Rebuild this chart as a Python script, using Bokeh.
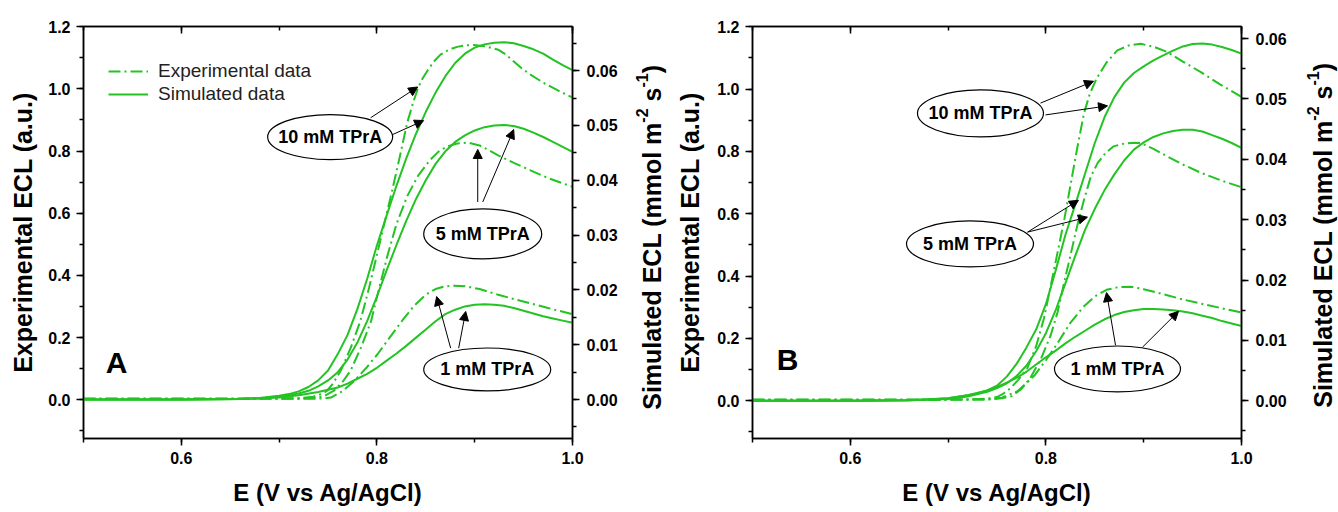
import math
from bokeh.plotting import figure
from bokeh.models import (Range1d, LinearAxis, SingleIntervalTicker, NumeralTickFormatter,
                          CustomJSTickFormatter, Arrow, NormalHead, Legend, LegendItem, Div)
from bokeh.layouts import row
from bokeh.embed import file_html
from bokeh.resources import INLINE
from bokeh.core.properties import value

# ---------------- data : panel A ----------------
A_sim10_x = [0.50, 0.60, 0.66, 0.68, 0.70, 0.71, 0.72, 0.73, 0.74, 0.75, 0.76, 0.77, 0.78, 0.79, 0.80, 0.81, 0.82, 0.83, 0.84, 0.85, 0.86, 0.87, 0.88, 0.89, 0.90, 0.91, 0.92, 0.93, 0.94, 0.95, 0.96, 0.97, 0.98, 0.99, 1.00]
A_sim10_y = [0.0, 0.0, 0.0001, 0.0003, 0.0007, 0.0010, 0.0015, 0.0023, 0.0035, 0.0053, 0.0083, 0.0118, 0.0165, 0.0220, 0.0281, 0.0336, 0.0390, 0.0440, 0.0485, 0.0525, 0.0560, 0.0590, 0.0614, 0.0631, 0.0642, 0.0648, 0.0651, 0.0652, 0.0650, 0.0645, 0.0639, 0.0631, 0.0620, 0.0610, 0.0601]
A_sim5_x = [0.50, 0.60, 0.66, 0.68, 0.70, 0.72, 0.73, 0.74, 0.75, 0.76, 0.77, 0.78, 0.79, 0.80, 0.81, 0.82, 0.83, 0.84, 0.85, 0.86, 0.87, 0.88, 0.89, 0.90, 0.91, 0.92, 0.93, 0.94, 0.95, 0.96, 0.97, 0.98, 0.99, 1.00]
A_sim5_y = [0.0, 0.0, 0.0001, 0.0002, 0.0005, 0.0011, 0.0016, 0.0024, 0.0035, 0.0050, 0.0073, 0.0104, 0.0143, 0.0188, 0.0236, 0.0282, 0.0326, 0.0366, 0.0400, 0.0430, 0.0453, 0.0470, 0.0482, 0.0491, 0.0497, 0.0500, 0.0501, 0.0499, 0.0494, 0.0487, 0.0479, 0.0470, 0.0461, 0.0452]
A_sim1_x = [0.50, 0.60, 0.66, 0.70, 0.72, 0.74, 0.75, 0.76, 0.77, 0.78, 0.79, 0.80, 0.81, 0.82, 0.83, 0.84, 0.85, 0.86, 0.87, 0.88, 0.89, 0.90, 0.91, 0.92, 0.93, 0.94, 0.95, 0.96, 0.97, 0.98, 0.99, 1.00]
A_sim1_y = [0.0, 0.0, 0.0001, 0.0004, 0.0008, 0.0014, 0.0018, 0.0022, 0.0029, 0.0038, 0.0047, 0.0058, 0.0071, 0.0084, 0.0098, 0.0113, 0.0128, 0.0143, 0.0156, 0.0164, 0.0170, 0.0173, 0.0174, 0.0173, 0.0171, 0.0167, 0.0162, 0.0157, 0.0152, 0.0148, 0.0144, 0.0140]
A_exp10_x = [0.50, 0.60, 0.70, 0.72, 0.735, 0.745, 0.749, 0.755, 0.763, 0.773, 0.783, 0.792, 0.800, 0.808, 0.816, 0.824, 0.831, 0.837, 0.842, 0.847, 0.852, 0.858, 0.865, 0.873, 0.882, 0.890, 0.899, 0.910, 0.924, 0.932, 0.940, 0.948, 0.957, 0.970, 0.985, 1.000]
A_exp10_y = [0.003, 0.003, 0.004, 0.005, 0.010, 0.020, 0.029, 0.052, 0.093, 0.165, 0.252, 0.360, 0.466, 0.572, 0.678, 0.790, 0.891, 0.955, 1.003, 1.035, 1.060, 1.087, 1.110, 1.125, 1.135, 1.140, 1.141, 1.137, 1.126, 1.110, 1.088, 1.066, 1.046, 1.020, 0.995, 0.972]
A_exp5_x = [0.50, 0.60, 0.72, 0.735, 0.745, 0.756, 0.765, 0.773, 0.784, 0.794, 0.800, 0.811, 0.820, 0.831, 0.842, 0.854, 0.863, 0.872, 0.882, 0.893, 0.905, 0.915, 0.924, 0.940, 0.957, 0.975, 1.000]
A_exp5_y = [0.003, 0.003, 0.004, 0.006, 0.010, 0.029, 0.058, 0.093, 0.170, 0.252, 0.330, 0.466, 0.565, 0.655, 0.720, 0.770, 0.798, 0.815, 0.824, 0.827, 0.818, 0.802, 0.786, 0.762, 0.738, 0.713, 0.685]
A_exp1_x = [0.50, 0.60, 0.73, 0.745, 0.753, 0.765, 0.777, 0.789, 0.801, 0.813, 0.826, 0.838, 0.850, 0.860, 0.870, 0.879, 0.890, 0.905, 0.924, 0.940, 0.957, 0.975, 1.000]
A_exp1_y = [0.003, 0.003, 0.003, 0.004, 0.007, 0.028, 0.061, 0.102, 0.148, 0.200, 0.255, 0.302, 0.338, 0.356, 0.365, 0.367, 0.365, 0.356, 0.338, 0.324, 0.310, 0.295, 0.275]

# ---------------- data : panel B ----------------
B_sim10_x = [0.50, 0.60, 0.66, 0.68, 0.70, 0.72, 0.73, 0.74, 0.75, 0.76, 0.77, 0.78, 0.79, 0.80, 0.81, 0.82, 0.83, 0.84, 0.85, 0.86, 0.87, 0.88, 0.89, 0.90, 0.91, 0.92, 0.93, 0.94, 0.95, 0.96, 0.97, 0.98, 0.99, 1.00]
B_sim10_y = [0.0, 0.0, 0.0001, 0.0002, 0.0004, 0.0009, 0.0012, 0.0017, 0.0025, 0.0040, 0.0061, 0.0088, 0.0118, 0.0160, 0.0216, 0.0275, 0.0325, 0.0376, 0.0427, 0.0470, 0.0503, 0.0527, 0.0543, 0.0554, 0.0564, 0.0572, 0.0580, 0.0587, 0.0591, 0.0592, 0.0590, 0.0586, 0.0581, 0.0575]
B_sim5_x = [0.50, 0.60, 0.66, 0.70, 0.72, 0.74, 0.75, 0.76, 0.77, 0.78, 0.79, 0.80, 0.81, 0.82, 0.83, 0.84, 0.85, 0.86, 0.87, 0.88, 0.89, 0.90, 0.91, 0.92, 0.93, 0.94, 0.95, 0.96, 0.97, 0.98, 0.99, 1.00]
B_sim5_y = [0.0, 0.0, 0.0001, 0.0003, 0.0007, 0.0015, 0.0021, 0.0029, 0.0041, 0.0058, 0.0082, 0.0112, 0.0150, 0.0195, 0.0240, 0.0283, 0.0318, 0.0349, 0.0375, 0.0398, 0.0416, 0.0428, 0.0437, 0.0443, 0.0447, 0.0449, 0.0449, 0.0446, 0.0440, 0.0434, 0.0427, 0.0419]
B_sim1_x = [0.50, 0.60, 0.66, 0.70, 0.72, 0.74, 0.75, 0.76, 0.77, 0.78, 0.79, 0.80, 0.81, 0.82, 0.83, 0.84, 0.85, 0.86, 0.87, 0.88, 0.89, 0.90, 0.91, 0.92, 0.93, 0.94, 0.95, 0.96, 0.97, 0.98, 0.99, 1.00]
B_sim1_y = [0.0, 0.0, 0.0001, 0.0004, 0.0009, 0.0017, 0.0023, 0.0030, 0.0038, 0.0048, 0.0060, 0.0072, 0.0083, 0.0095, 0.0106, 0.0116, 0.0126, 0.0135, 0.0142, 0.0147, 0.0150, 0.0152, 0.0152, 0.0151, 0.0150, 0.0148, 0.0145, 0.0141, 0.0137, 0.0132, 0.0128, 0.0124]
B_exp10_x = [0.50, 0.60, 0.72, 0.74, 0.75, 0.757, 0.764, 0.772, 0.781, 0.790, 0.798, 0.805, 0.812, 0.819, 0.825, 0.832, 0.839, 0.845, 0.852, 0.862, 0.873, 0.885, 0.897, 0.910, 0.924, 0.940, 0.958, 0.978, 1.000]
B_exp10_y = [0.003, 0.003, 0.004, 0.007, 0.012, 0.024, 0.041, 0.068, 0.105, 0.175, 0.264, 0.370, 0.477, 0.585, 0.689, 0.810, 0.923, 0.985, 1.035, 1.085, 1.124, 1.140, 1.145, 1.136, 1.119, 1.088, 1.055, 1.015, 0.975]
B_exp5_x = [0.50, 0.60, 0.74, 0.755, 0.765, 0.775, 0.784, 0.795, 0.805, 0.812, 0.818, 0.825, 0.832, 0.839, 0.846, 0.853, 0.861, 0.869, 0.880, 0.890, 0.897, 0.910, 0.924, 0.940, 0.958, 0.978, 1.000]
B_exp5_y = [0.003, 0.003, 0.004, 0.008, 0.015, 0.038, 0.073, 0.135, 0.211, 0.285, 0.370, 0.465, 0.561, 0.645, 0.720, 0.763, 0.795, 0.816, 0.825, 0.828, 0.827, 0.808, 0.784, 0.758, 0.732, 0.708, 0.685]
B_exp1_x = [0.50, 0.60, 0.74, 0.755, 0.771, 0.788, 0.800, 0.812, 0.825, 0.838, 0.850, 0.862, 0.875, 0.887, 0.900, 0.924, 0.940, 0.958, 0.978, 1.000]
B_exp1_y = [0.003, 0.003, 0.004, 0.010, 0.031, 0.080, 0.130, 0.185, 0.250, 0.300, 0.335, 0.356, 0.365, 0.366, 0.358, 0.3385, 0.325, 0.312, 0.298, 0.283]

# ---------------- labels ----------------
x_label = "E (V vs Ag/AgCl)"
y_label = "Experimental ECL (a.u.)"
y2_label_parts = ["Simulated ECL (mmol m", "-2", " s", "-1", ")"]
legend_labels = ["Experimental data", "Simulated data"]
conc_labels = ["10 mM TPrA", "5 mM TPrA", "1 mM TPrA"]

# ---------------- annotation placement (left-axis data units) ----------------
A_ell_x = [0.7522, 0.9082, 0.9128]
A_ell_y = [0.845, 0.5335, 0.0974]
A_ell_w = [125, 118, 127]
A_ell_h = [45, 50, 43]
A_arrows = [(0.7936, 0.907, 0.8417, 1.006), (0.8161, 0.853, 0.8478, 0.898),
            (0.9031, 0.636, 0.9031, 0.805), (0.9082, 0.636, 0.9399, 0.869),
            (0.8754, 0.166, 0.8611, 0.332), (0.8836, 0.166, 0.8908, 0.284)]
B_ell_x = [0.7331, 0.7224, 0.8732]
B_ell_y = [0.922, 0.503, 0.102]
B_ell_w = [126, 127, 126]
B_ell_h = [47, 46, 46]
B_arrows = [(0.7945, 0.955, 0.8487, 1.025), (0.7996, 0.917, 0.863, 0.946),
            (0.7812, 0.541, 0.8333, 0.643), (0.7812, 0.541, 0.8425, 0.589),
            (0.8712, 0.178, 0.862, 0.347), (0.8988, 0.172, 0.9356, 0.287)]

GREEN = "#22c322"
FONT = "Liberation Sans"
DASH = "12 4 2 4"


def style_axis(ax, interval, fmt, tick_out=True, labels=True):
    ax.ticker = SingleIntervalTicker(interval=interval, num_minor_ticks=2)
    ax.axis_line_width = 1.5
    ax.axis_line_color = "black"
    ax.major_tick_line_width = 1.5
    ax.minor_tick_line_width = 1.5
    ax.major_tick_line_color = "black"
    ax.minor_tick_line_color = "black"
    if tick_out:
        ax.major_tick_out, ax.major_tick_in = 7, 0
        ax.minor_tick_out, ax.minor_tick_in = 4, 0
    else:
        ax.major_tick_out, ax.major_tick_in = 0, 7
        ax.minor_tick_out, ax.minor_tick_in = 0, 4
    if labels:
        ax.formatter = NumeralTickFormatter(format=fmt)
        ax.major_label_text_font = FONT
        ax.major_label_text_font_size = "16px"
        ax.major_label_text_font_style = "bold"
        ax.major_label_text_color = "black"
        ax.major_label_standoff = 6
    else:
        ax.formatter = CustomJSTickFormatter(code="return ''")
        ax.major_label_standoff = 0
    ax.axis_label_text_font = FONT
    ax.axis_label_text_font_size = "25px"
    ax.axis_label_text_font_style = "bold"
    ax.axis_label_text_color = "black"


def make_panel(w, h, borders, yr, sr, curves, ell, arrows, letter, letter_pos,
               yl_standoff, legend_box=None):
    bl, br, bt, bb = borders
    p = figure(width=w, height=h, x_range=Range1d(0.5, 1.0), y_range=Range1d(*yr),
               output_backend="svg", toolbar_location=None,
               min_border_left=bl, min_border_right=br, min_border_top=bt, min_border_bottom=bb,
               x_axis_location=None, y_axis_location=None)
    p.xgrid.visible = False
    p.ygrid.visible = False
    p.outline_line_color = "black"
    p.outline_line_width = 1.5
    p.background_fill_color = "white"
    p.border_fill_color = "white"
    p.extra_y_ranges = {"sim": Range1d(*sr)}

    xb = LinearAxis(axis_label=x_label)
    style_axis(xb, 0.2, "0.0")
    xb.axis_label_standoff = 12
    xb.axis_label_text_font_size = "24px"
    p.add_layout(xb, "below")
    xt = LinearAxis()
    style_axis(xt, 0.2, "0.0", tick_out=False, labels=False)
    p.add_layout(xt, "above")
    yl = LinearAxis(axis_label=y_label)
    style_axis(yl, 0.2, "0.0")
    yl.axis_label_standoff = yl_standoff
    p.add_layout(yl, "left")
    yr_ax = LinearAxis(y_range_name="sim")
    style_axis(yr_ax, 0.01, "0.00")
    yr_ax.major_label_standoff = 7
    p.add_layout(yr_ax, "right")

    renderers = {}
    for key, xs, ys in curves:
        if key.startswith("exp"):
            r = p.line(xs, ys, line_color=GREEN, line_width=2, line_dash=DASH)
        else:
            r = p.line(xs, ys, line_color=GREEN, line_width=2, y_range_name="sim")
        renderers[key] = r

    ex, ey, ew, eh = ell
    p.ellipse(x=ex, y=ey, width=ew, height=eh, width_units="screen", height_units="screen",
              fill_color="white", line_color="black", line_width=1.2)
    p.text(x=ex, y=ey, text=conc_labels, text_font=value(FONT), text_font_style="bold",
           text_font_size="18px", text_align="center", text_baseline="middle", text_color="black")
    for (x0, y0, x1, y1) in arrows:
        p.add_layout(Arrow(x_start=x0, y_start=y0, x_end=x1, y_end=y1, line_width=1,
                           line_color="black",
                           end=NormalHead(size=9, fill_color="black", line_color="black",
                                          line_width=1)))
    p.text(x=[letter_pos[0]], y=[letter_pos[1]], text=[letter], text_font=value(FONT),
           text_font_style="bold", text_font_size="30px", text_align="center",
           text_baseline="middle", text_color="black")

    if legend_box is not None:
        leg = Legend(items=[LegendItem(label=legend_labels[0], renderers=[renderers["exp10"]]),
                            LegendItem(label=legend_labels[1], renderers=[renderers["sim10"]])],
                     location=legend_box, margin=0, padding=0, spacing=1,
                     glyph_width=40, glyph_height=22, label_height=22, label_standoff=10,
                     border_line_color=None, background_fill_alpha=0,
                     label_text_font=FONT, label_text_font_size="19px",
                     label_text_color="#222222")
        p.add_layout(leg)
    return p


def right_title(width, height, center_h):
    a, s1, b, s2, c = y2_label_parts
    sup = '<sup style="font-size:16px;">'
    html = (f'<div style="width:{width}px;height:{center_h}px;display:flex;'
            f'align-items:center;justify-content:center;">'
            f'<span style="writing-mode:vertical-rl;transform:rotate(180deg);white-space:nowrap;'
            f"font-family:'{FONT}';font-weight:bold;font-size:25px;color:black;line-height:1;\">"
            f'{a}{sup}{s1}</sup>{b}{sup}{s2}</sup>{c}</span></div>')
    return Div(text=html, width=width, height=height, margin=0)


pA = make_panel(633, 512, (83, 61, 24, 74), (-0.1246, 1.2005), (-0.0071, 0.06806),
                [("exp10", A_exp10_x, A_exp10_y), ("exp5", A_exp5_x, A_exp5_y),
                 ("exp1", A_exp1_x, A_exp1_y), ("sim10", A_sim10_x, A_sim10_y),
                 ("sim5", A_sim5_x, A_sim5_y), ("sim1", A_sim1_x, A_sim1_y)],
                (A_ell_x, A_ell_y, A_ell_w, A_ell_h), A_arrows, "A", (0.5338, 0.121),
                8, legend_box=(25, 333))

pB = make_panel(637, 512, (85, 63, 26, 71), (-0.121, 1.2006), (-0.00625, 0.062),
                [("exp10", B_exp10_x, B_exp10_y), ("exp5", B_exp5_x, B_exp5_y),
                 ("exp1", B_exp1_x, B_exp1_y), ("sim10", B_sim10_x, B_sim10_y),
                 ("sim5", B_sim5_x, B_sim5_y), ("sim1", B_sim1_x, B_sim1_y)],
                (B_ell_x, B_ell_y, B_ell_w, B_ell_h), B_arrows, "B", (0.5358, 0.131),
                10)

dA = right_title(34, 512, 474)
dB = right_title(34, 512, 470)

layout = row(pA, dA, pB, dB, spacing=0)
open("out.html", "w").write(file_html(layout, INLINE))
